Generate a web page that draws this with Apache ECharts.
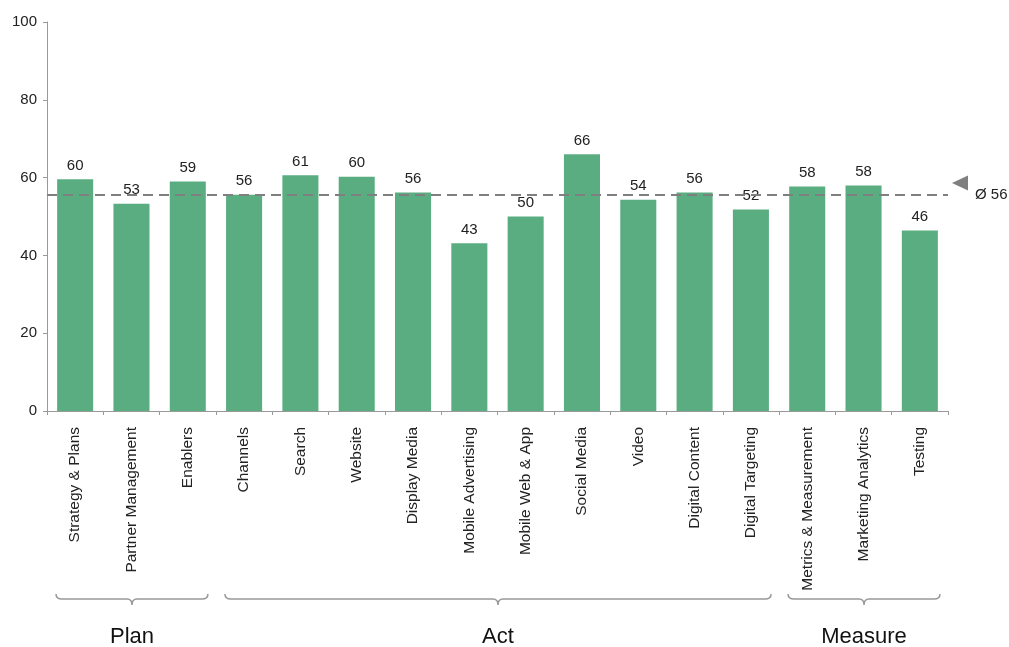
<!DOCTYPE html>
<html>
<head>
<meta charset="utf-8">
<script src="https://cdn.jsdelivr.net/npm/echarts@6/dist/echarts.min.js"></script>
<style>
html,body{margin:0;padding:0;background:#fff;}
#chart{width:1009px;height:647px;}
</style>
</head>
<body>
<div id="chart"></div>
<script>
var categories = ["Strategy & Plans","Partner Management","Enablers","Channels","Search","Website",
  "Display Media","Mobile Advertising","Mobile Web & App","Social Media","Video","Digital Content",
  "Digital Targeting","Metrics & Measurement","Marketing Analytics","Testing"];
var scores = [59.6,53.3,59.0,55.6,60.6,60.2,56.2,43.1,50.0,66.0,54.3,56.2,51.8,57.7,58.0,46.4];
var groupNames = ["Plan","Act","Measure"];
var groupFirst = [0,3,13];
var groupLast = [2,12,15];

var FONT = "Liberation Sans";
var chart = echarts.init(document.getElementById("chart"));

var groupData = groupNames.map(function(n,i){ return [groupFirst[i], groupLast[i], 0]; });

var option = {
  animation:false,
  textStyle:{fontFamily:FONT},
  grid:{left:47,right:61,top:22,bottom:236},
  xAxis:{
    type:"category",
    data:categories,
    axisLine:{lineStyle:{color:"#9a9a9a",width:1}},
    axisTick:{show:true,length:4,lineStyle:{color:"#9a9a9a"}},
    axisLabel:{rotate:90,interval:0,margin:16,fontSize:15.5,color:"#222",fontFamily:FONT}
  },
  yAxis:{
    type:"value",min:0,max:100,interval:20,
    axisLine:{show:true,lineStyle:{color:"#9a9a9a",width:1}},
    axisTick:{show:true,length:4,lineStyle:{color:"#9a9a9a"}},
    splitLine:{show:false},
    axisLabel:{fontSize:15,color:"#222",margin:10,fontFamily:FONT}
  },
  series:[{
    type:"bar",
    data:scores,
    barWidth:"64%",
    itemStyle:{color:"#5aad80"},
    label:{show:true,position:"top",distance:6,fontSize:15,color:"#222",fontFamily:FONT,
      formatter:function(p){ return Math.round(p.value); }},
    markLine:{
      silent:true,
      symbol:["none","triangle"],
      symbolSize:[15,16],
      symbolRotate:90,
      symbolOffset:[0,12],
      lineStyle:{color:"#7f7f7f",type:[10,6],width:2},
      label:{position:"end",distance:27,fontSize:15,color:"#222",fontFamily:FONT,
        formatter:function(p){ return "\u00d8 " + Math.round(p.value); }},
      data:[{type:"average"}]
    }
  },{
    type:"custom",
    data:groupData,
    encode:{x:[0,1],y:2},
    clip:false,
    silent:true,
    renderItem:function(params, api){
      var a = api.coord([api.value(0), 0]);
      var b = api.coord([api.value(1), 0]);
      var band = api.size([1,0])[0];
      var x0 = a[0] - band/2 + 9, x1 = b[0] + band/2 - 8;
      var y = a[1] + 188, cx = (x0 + x1)/2;
      var d = "M" + x0 + " " + (y-5) + " Q" + x0 + " " + y + " " + (x0+6) + " " + y +
        " L" + (cx-5) + " " + y + " Q" + cx + " " + y + " " + cx + " " + (y+6) +
        " Q" + cx + " " + y + " " + (cx+5) + " " + y +
        " L" + (x1-6) + " " + y + " Q" + x1 + " " + y + " " + x1 + " " + (y-5);
      return {type:"group",children:[
        {type:"path",shape:{pathData:d},style:{stroke:"#999",fill:null,lineWidth:1.5}},
        {type:"text",style:{text:groupNames[params.dataIndex],x:cx,y:y+38,align:"center",
          verticalAlign:"middle",fontSize:22,fontFamily:FONT,fill:"#111"}}
      ]};
    }
  }]
};
chart.setOption(option);
</script>
</body>
</html>
